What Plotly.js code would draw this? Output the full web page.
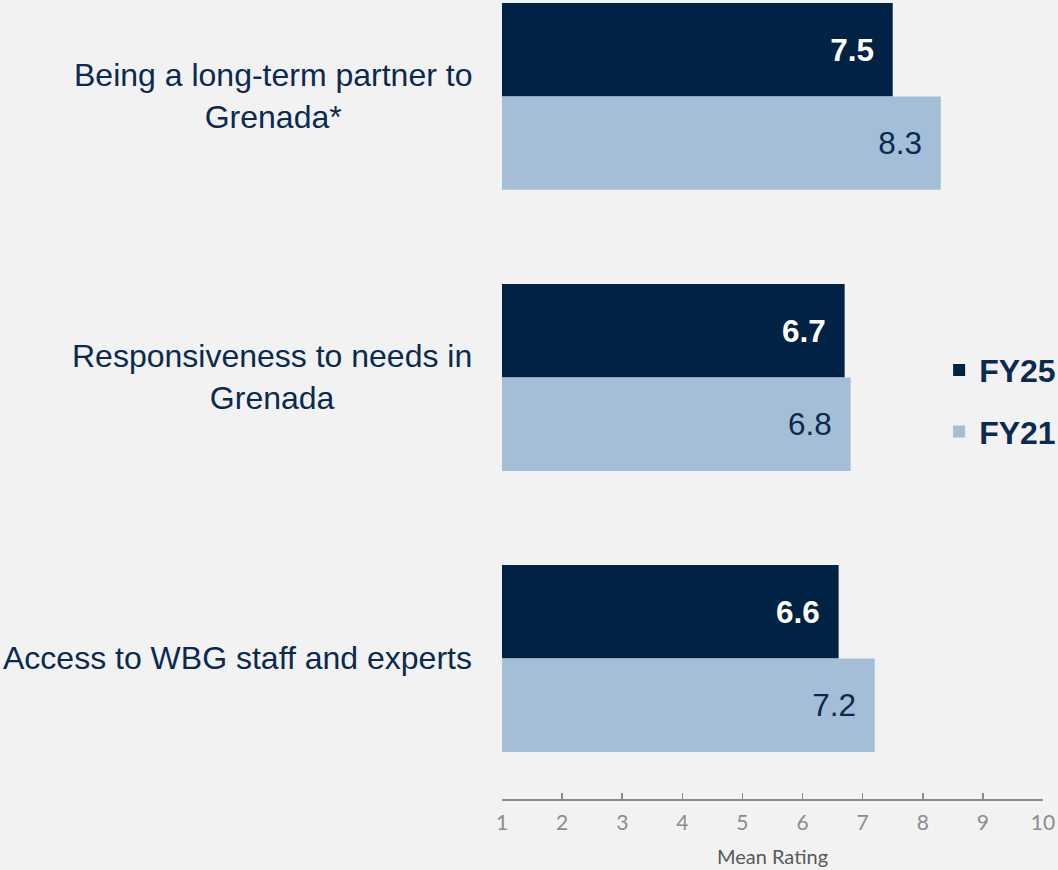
<!DOCTYPE html>
<html>
<head>
<meta charset="utf-8">
<script src="https://cdn.plot.ly/plotly-3.0.1.min.js"></script>
<style>html,body{margin:0;padding:0;background:#f2f2f2;}#chart{width:1058px;height:870px;}</style>
</head>
<body>
<div id="chart"></div>
<script>
const categories = [
  "Being a long-term partner to<br>Grenada*",
  "Responsiveness to needs in<br>Grenada",
  "Access to WBG staff and experts"
];
const fy25 = [7.5, 6.7, 6.6];
const fy21 = [8.3, 6.8, 7.2];
const seriesNames = ["FY25", "FY21"];
const tickVals = [1, 2, 3, 4, 5, 6, 7, 8, 9, 10];

const navy = "#002245";
const light = "#a3bed6";
const textNavy = "#0b2a4f";
const sans = "Liberation Sans, Arimo, sans-serif";

const traces = [
  {
    type: "bar", orientation: "h", name: seriesNames[0],
    y: categories, x: fy25,
    marker: {color: navy},
    texttemplate: "%{x:.1f}\u2002", textposition: "inside", insidetextanchor: "end",
    insidetextfont: {family: sans, size: 31.5, color: "#ffffff", weight: "bold"},
    legendgroup: "a", hoverinfo: "skip"
  },
  {
    type: "bar", orientation: "h", name: seriesNames[1],
    y: categories, x: fy21,
    marker: {color: light},
    texttemplate: "%{x:.1f}\u2002", textposition: "inside", insidetextanchor: "end",
    insidetextfont: {family: sans, size: 31.5, color: textNavy},
    legendgroup: "b", hoverinfo: "skip"
  }
];

const annotations = categories.map(c => ({
  xref: "paper", yref: "y", x: -0.052, y: c, xanchor: "right", yanchor: "middle",
  text: c, showarrow: false, align: "center",
  font: {family: sans, size: 32, color: textNavy}
}));

const layout = {
  width: 1058, height: 870,
  paper_bgcolor: "#f2f2f2", plot_bgcolor: "#f2f2f2",
  margin: {l: 502, r: 15, t: 0, b: 71, autoexpand: false},
  barmode: "group", bargap: 0.335, bargroupgap: 0,
  showlegend: true,
  legend: {
    x: 0.808, xanchor: "left", y: 0.498, yanchor: "middle",
    bgcolor: "rgba(0,0,0,0)", traceorder: "grouped", tracegroupgap: 17,
    font: {family: sans, size: 32, color: textNavy, weight: "bold"}
  },
  xaxis: {
    range: [1, 10], tickvals: tickVals, ticktext: tickVals.map(String),
    showgrid: false, zeroline: false,
    showline: true, linecolor: "#8c8c8c", linewidth: 1.5,
    ticks: "inside", ticklen: 6, tickcolor: "#8c8c8c", tickwidth: 1.5,
    ticklabelstandoff: 4,
    tickfont: {family: "Lato, sans-serif", size: 21, color: "#8c8c8c"},
    title: {text: "Mean Rating", standoff: 17, font: {family: "Lato, sans-serif", size: 20, color: "#595959"}},
    fixedrange: true
  },
  yaxis: {
    type: "category", categoryorder: "array", categoryarray: categories,
    range: [2.5, -0.343], showticklabels: false, showgrid: false, zeroline: false,
    showline: false, ticks: "", fixedrange: true
  },
  annotations: annotations
};

Plotly.newPlot("chart", traces, layout, {displayModeBar: false, staticPlot: true});
</script>
</body>
</html>
